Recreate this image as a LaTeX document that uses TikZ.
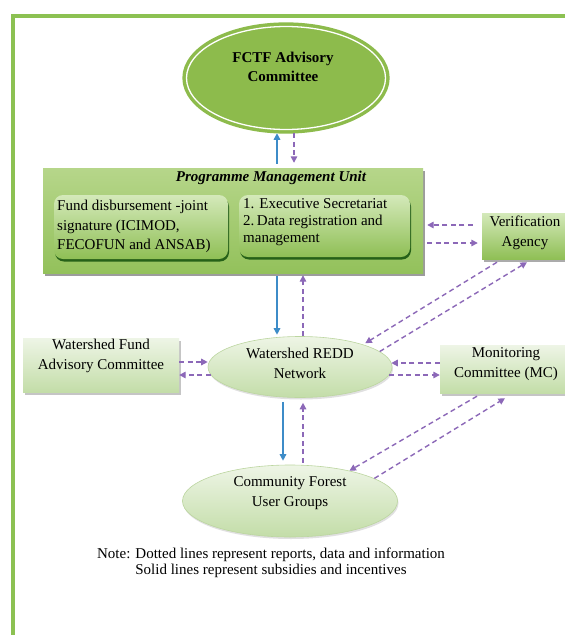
\documentclass[tikz,border=0pt]{standalone}
\usepackage{fontspec}
\setmainfont{Liberation Serif}
\usetikzlibrary{arrows.meta,shapes.geometric,shadows}

\definecolor{framegreen}{HTML}{8CC152}
\definecolor{fctfgreen}{HTML}{8DBB4C}
\definecolor{infoviolet}{HTML}{8C68B8}
\definecolor{fundblue}{HTML}{3D8CC8}
\definecolor{pmutop}{HTML}{B6D68A}
\definecolor{pmubot}{HTML}{93C15B}
\definecolor{innertop}{HTML}{D4E9BA}
\definecolor{innerbot}{HTML}{8FBF55}
\definecolor{palegreentop}{HTML}{EEF5E6}
\definecolor{palegreenbot}{HTML}{C3DDA8}
\definecolor{ovaledge}{HTML}{BCD6A0}

\tikzset{
  txt/.style={inner sep=0pt, align=center, text=black},
  info/.style={draw=infoviolet, line width=1.4pt, dash pattern=on 5pt off 3.5pt,
    -{Triangle[length=6.5pt,width=6.5pt]}},
  fund/.style={draw=fundblue, line width=1.4pt, -{Triangle[length=6.5pt,width=6.5pt]}},
  fctfnode/.style={ellipse, fill=fctfgreen, draw=fctfgreen, double=white,
    double distance=1.3pt, line width=3.5pt, minimum width=199pt, minimum height=103pt, inner sep=0pt},
  pmubox/.style={rectangle, top color=pmutop, bottom color=pmubot, inner sep=0pt,
    drop shadow={shadow xshift=2pt, shadow yshift=-3pt, fill=black!70, opacity=0.55}},
  innerbox/.style={rectangle, rounded corners=9pt, top color=innertop, bottom color=innerbot,
    inner sep=0pt, drop shadow={shadow xshift=1pt, shadow yshift=-2.5pt, fill=green!25!black, opacity=0.75}},
  vabox/.style={rectangle, top color=innertop, bottom color=innerbot, inner sep=0pt,
    drop shadow={shadow xshift=1.5pt, shadow yshift=-2.5pt, fill=black!60, opacity=0.55}},
  palebox/.style={rectangle, top color=palegreentop, bottom color=palegreenbot, inner sep=0pt,
    drop shadow={shadow xshift=1.5pt, shadow yshift=-2.5pt, fill=black!50, opacity=0.45}},
  paleoval/.style={ellipse, top color=palegreentop, bottom color=palegreenbot, draw=ovaledge,
    line width=0.6pt, inner sep=0pt, align=center,
    drop shadow={shadow xshift=1pt, shadow yshift=-2pt, fill=black!40, opacity=0.3}},
}

\begin{document}
\begin{tikzpicture}[x=1pt, y=-1pt, font=\fontsize{15}{19.5}\selectfont]
\useasboundingbox (0,0) rectangle (565,635);
\fill[white] (0,0) rectangle (565,635);

% outer frame
\draw[framegreen, line width=3.2pt, line join=miter] (13,640) -- (13,16) -- (570,16);

% FCTF Advisory Committee
\node[fctfnode] (fctf) at (286,78) {};
\node[txt, font=\fontsize{15}{19}\selectfont\bfseries] (fctftxt) at (283,67) {FCTF Advisory\\Committee};

% Programme Management Unit
\node[pmubox, minimum width=380pt, minimum height=105pt] (pmu) at (233,220.5) {};
\node[txt, font=\fontsize{15}{19}\selectfont\bfseries\itshape] (pmutitle) at (271,177.5) {Programme Management Unit};
\node[innerbox, minimum width=174pt, minimum height=64pt] (fundbox) at (141,227) {};
\node[txt, anchor=west, align=left] (fundtxt) at (57,226.5) {Fund disbursement -joint\\signature (ICIMOD,\\FECOFUN and ANSAB)};
\node[innerbox, minimum width=171pt, minimum height=62pt] (secbox) at (324.5,226) {};
\node[txt, anchor=west, align=left, font=\fontsize{15}{17}\selectfont] (sectxt) at (243,222.5) {1. Executive Secretariat\\2.\,Data registration and\\management};

% Verification Agency
\node[vabox, minimum width=88pt, minimum height=46pt] (va) at (526,236) {};
\node[txt] (vatxt) at (525,233) {Verification\\Agency};

% Watershed Fund Advisory Committee
\node[palebox, minimum width=156pt, minimum height=54pt] (wfac) at (101,365) {};
\node[txt] (wfactxt) at (101,356) {Watershed Fund\\Advisory Committee};

% Monitoring Committee
\node[palebox, minimum width=132pt, minimum height=48pt] (mc) at (506,369) {};
\node[txt] (mctxt) at (506,364) {Monitoring\\Committee (MC)};

% Watershed REDD Network
\node[paleoval, minimum width=184pt, minimum height=61pt] (wrn) at (300,367) {};
\node[txt] (wrntxt) at (300,363.5) {Watershed REDD\\Network};

% Community Forest User Groups
\node[paleoval, minimum width=215pt, minimum height=72pt] (cfug) at (290,501) {};
\node[txt] (cfugtxt) at (290,493) {Community Forest\\User Groups};

% legend note
\node[txt, font=\fontsize{15}{16.5}\selectfont] (note) at (271,563)
  {Note: Dotted lines represent reports, data and information\\Solid lines represent subsidies and incentives};

% FCTF <-> PMU
\draw[fund] ([xshift=44pt,yshift=4pt]pmu.north) -- ([xshift=-9pt,yshift=-2pt]fctf.south);
\draw[info] ([xshift=8pt,yshift=-2pt]fctf.south) -- ([xshift=61pt,yshift=5pt]pmu.north);

% PMU <-> Verification Agency
\draw[info] ([xshift=-9pt,yshift=11pt]va.west) -- ([xshift=4pt,yshift=-4.5pt]pmu.east);
\draw[info] ([xshift=4pt,yshift=-22.5pt]pmu.east) -- ([xshift=-4pt,yshift=-7pt]va.west);

% PMU <-> Watershed REDD Network
\draw[fund] ([xshift=44pt,yshift=-3pt]pmu.south) -- ([xshift=-23pt,yshift=1.5pt]wrn.north);
\draw[info] ([xshift=3pt]wrn.north) -- ([xshift=70pt,yshift=-2pt]pmu.south);

% Watershed Fund Advisory Committee <-> Network
\draw[info] ([yshift=3pt]wfac.east) -- ([yshift=5pt]wrn.west);
\draw[info] ([xshift=3pt,yshift=-8pt]wrn.west) -- ([yshift=-10pt]wfac.east);

% Monitoring Committee <-> Network
\draw[info] ([yshift=6pt]mc.west) -- ([xshift=-1pt,yshift=4pt]wrn.east);
\draw[info] ([xshift=-3pt,yshift=-8pt]wrn.east) -- ([yshift=-6pt]mc.west);

% Verification Agency <-> Network
\draw[info] ([xshift=-29pt,yshift=-3pt]va.south) -- ([yshift=2pt]wrn.north east);
\draw[info] (wrn.11) -- ([xshift=1pt,yshift=-3pt]va.south);

% Network <-> Community Forest User Groups
\draw[fund] ([xshift=-17pt,yshift=-4pt]wrn.south) -- ([xshift=-7pt,yshift=4pt]cfug.north);
\draw[info] ([xshift=13pt,yshift=2pt]cfug.north) -- ([xshift=3pt,yshift=-5pt]wrn.south);

% Monitoring Committee <-> Community Forest User Groups
\draw[info] ([xshift=-29pt,yshift=-3pt]mc.south) -- (cfug.27);
\draw[info] (cfug.15) -- ([xshift=-1pt,yshift=-5pt]mc.south);
\end{tikzpicture}
\end{document}
